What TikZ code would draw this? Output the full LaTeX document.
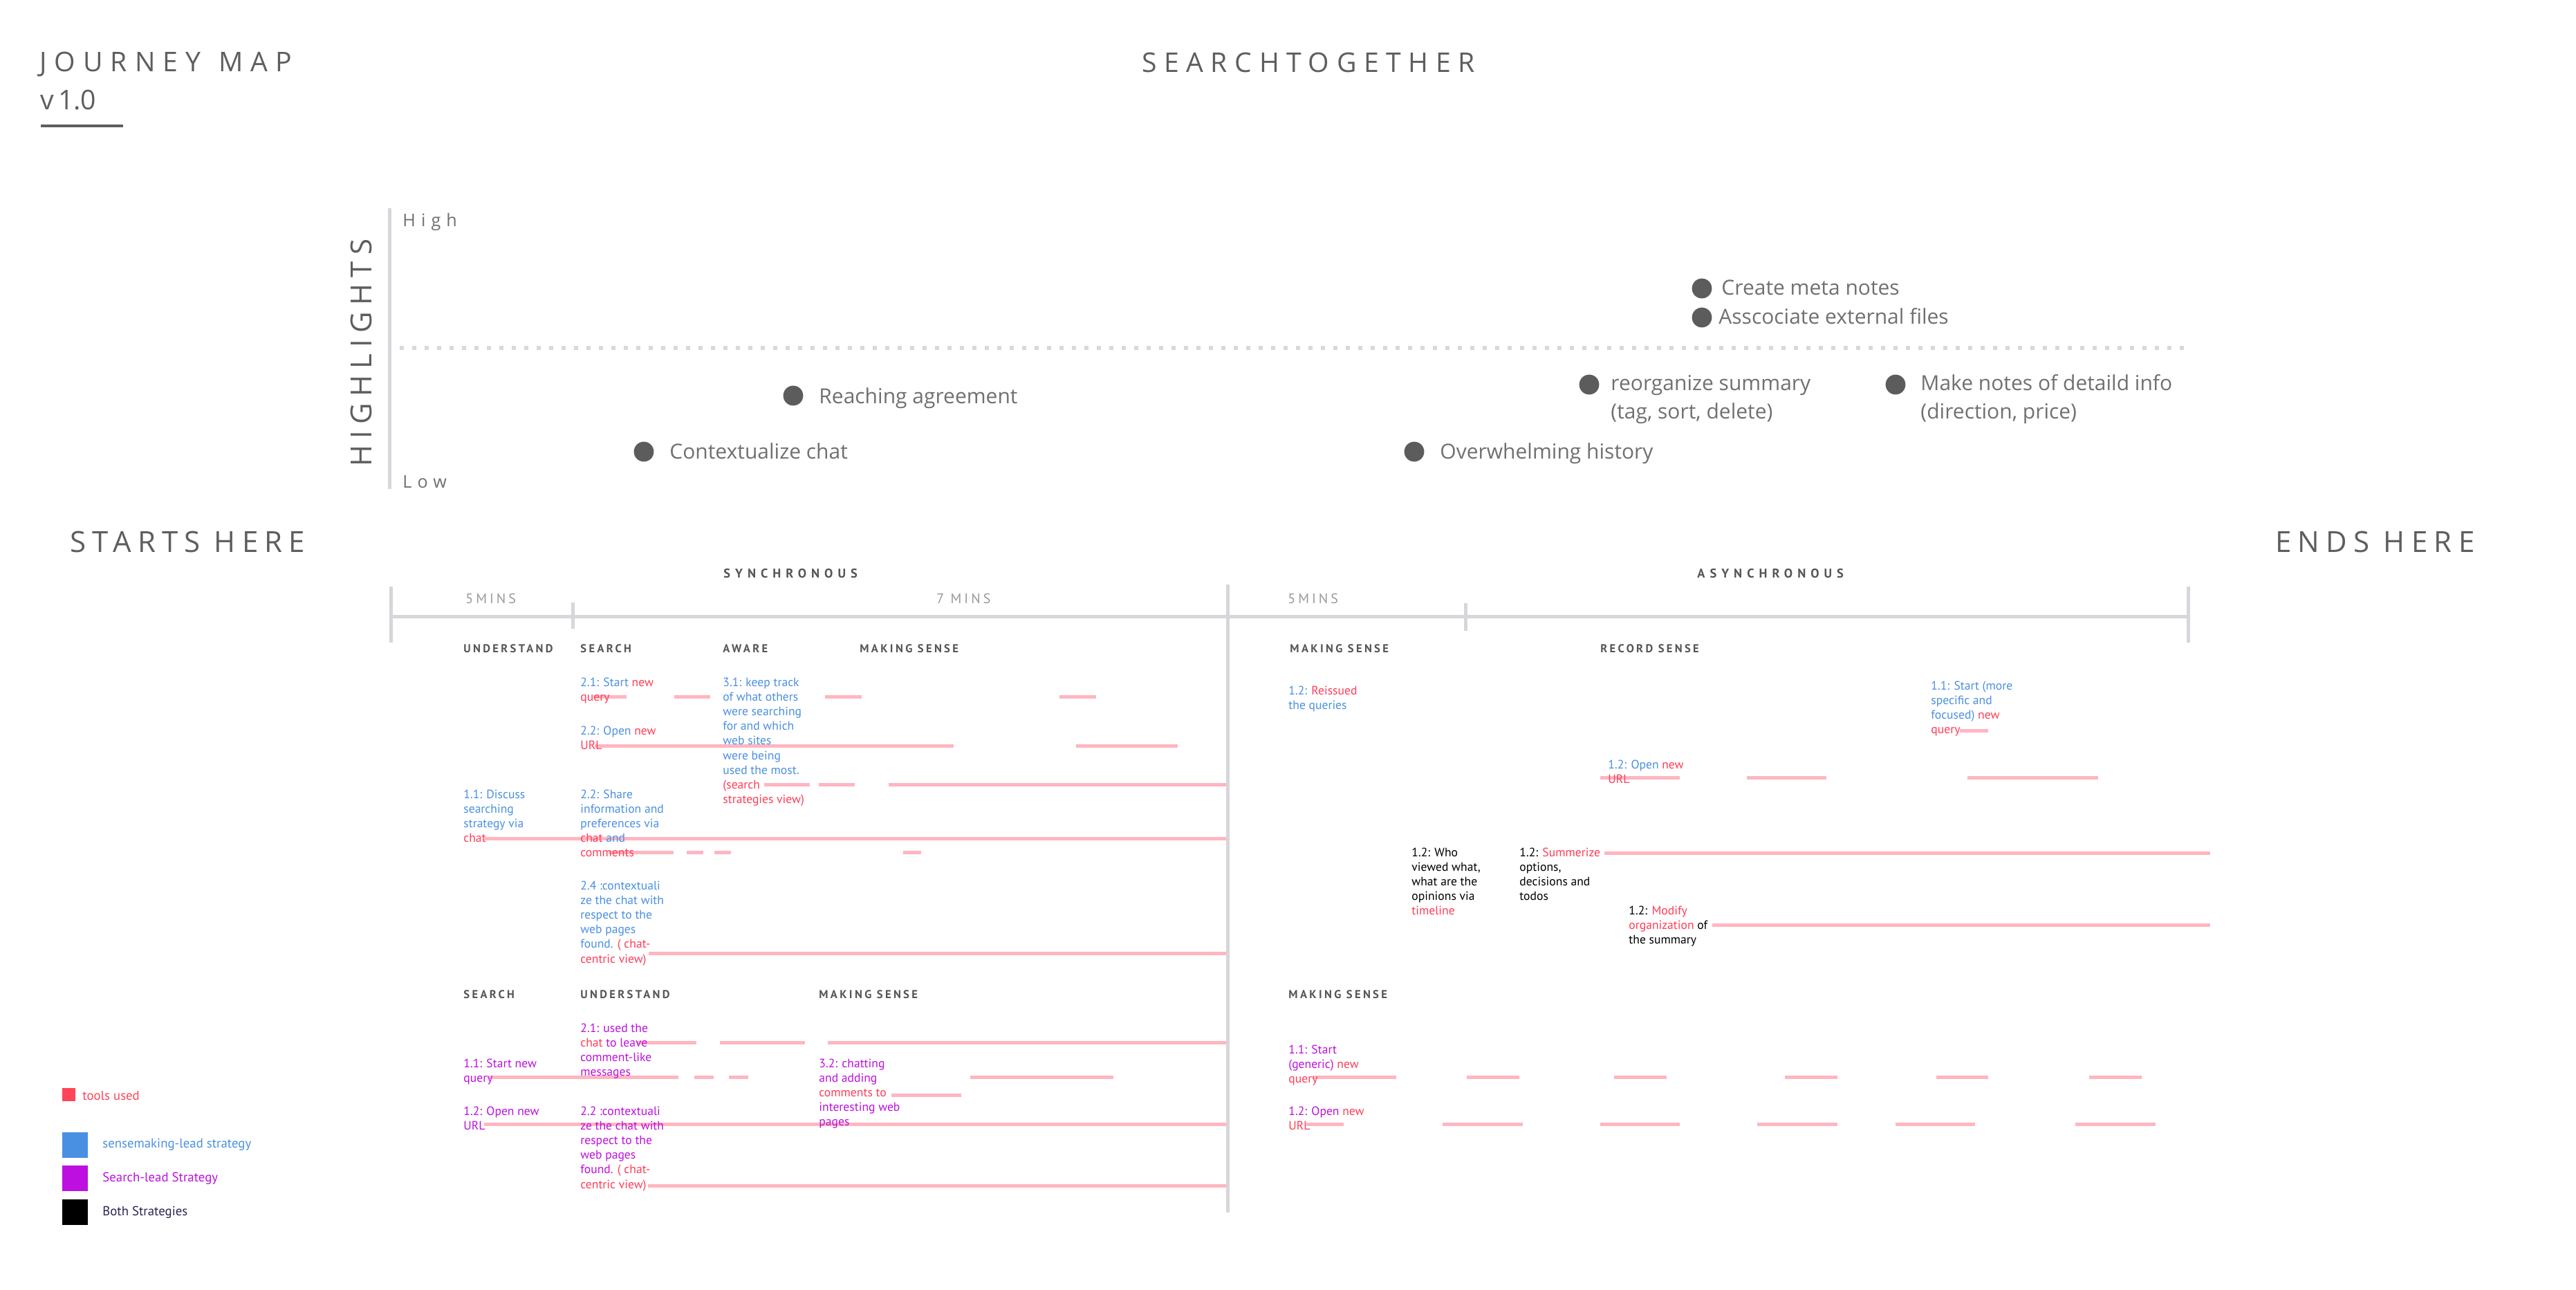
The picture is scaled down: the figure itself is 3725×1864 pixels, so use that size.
\documentclass[tikz,border=0pt]{standalone}
\usepackage{fontspec}
\setmainfont{PT Sans}
\newfontfamily\osN{Open Sans}
\newfontfamily\osA{Open Sans}[LetterSpace=22]
\newfontfamily\osJ{Open Sans}[LetterSpace=28]
\newfontfamily\osC{Open Sans}[LetterSpace=27]
\newfontfamily\osB{Open Sans}[LetterSpace=32]
\newfontfamily\ptA{PT Sans}[LetterSpace=20]
\newfontfamily\ptH{PT Sans}[LetterSpace=20]
\newfontfamily\ptB{PT Sans}[LetterSpace=38]
\definecolor{cBlue}{HTML}{4A90E2}
\definecolor{cPurp}{HTML}{BD10E0}
\definecolor{cRed}{HTML}{FF3D57}
\definecolor{cPink}{HTML}{FFB6C1}
\definecolor{cAxis}{HTML}{D6D6DB}
\definecolor{cDotL}{HTML}{D8D8DD}
\definecolor{cDot}{HTML}{5C5C5C}
\definecolor{cHead}{HTML}{5E5E5E}
\definecolor{cHl}{HTML}{707070}
\definecolor{cPh}{HTML}{555555}
\definecolor{cMin}{HTML}{9A9A9A}
\definecolor{cNavy}{HTML}{2A2352}
\definecolor{cLegRed}{HTML}{FF4458}
\newcommand{\tred}[1]{\textcolor{cRed}{#1}}
\newcommand{\mlines}[1]{\begin{tabular}[t]{@{}l@{}}#1\end{tabular}}
\begin{document}
\begin{tikzpicture}[x=0.5pt,y=-0.5pt,
  tx/.style={anchor=base west, inner sep=0pt, font=\fontsize{8.8}{10.6}\selectfont},
  hl/.style={anchor=base west, inner sep=0pt, font=\osN\fontsize{15}{18}\selectfont, text=cHl},
  bigtitle/.style={inner sep=0pt, font=\fontsize{19.6}{22}\selectfont, text=cHead},
  phase/.style={anchor=base west, inner sep=0pt, font=\ptH\bfseries\fontsize{8.3}{10}\selectfont, text=cPh},
  mins/.style={anchor=base west, inner sep=0pt, font=\ptA\fontsize{10}{12}\selectfont, text=cMin},
  sync/.style={anchor=base west, inner sep=0pt, font=\ptB\bfseries\fontsize{9.2}{11}\selectfont, text=cPh},
  bullet/.style={circle, fill=cDot, inner sep=0pt, minimum size=14.4pt},
  pk/.style={cPink, line width=2.5pt},
  ax/.style={cAxis, line width=2.5pt},
  legtx/.style={anchor=base west, inner sep=0pt, font=\fontsize{9.4}{11}\selectfont}]
\useasboundingbox (0,0) rectangle (3725,1864);
\fill[white] (0,0) rectangle (3725,1864);

% ---------- titles ----------
\node[bigtitle, anchor=base west] (jm) at (57,103) {\osJ JOURNEY\hspace{13pt}MAP};
\node[bigtitle, anchor=base west] (ver) at (58,158) {\osN v\hspace{3pt}1.0};
\draw[cHead, line width=1.6pt] (59,182) -- (178,182);
\node[bigtitle, anchor=base] (st) at (1892,104) {\osC SEARCHTOGETHER};

% ---------- highlights ----------
\draw[ax] (563,301) -- (563,707);
\draw[cDotL, line width=3pt, dash pattern=on 3pt off 6pt] (578,503) -- (3160,503);
\node[anchor=base west, inner sep=0pt, font=\osB\fontsize{12.6}{14}\selectfont, text=cHl] (hi) at (582,327) {High};
\node[anchor=base west, inner sep=0pt, font=\osB\fontsize{12.6}{14}\selectfont, text=cHl] (lo) at (582,705) {Low};
\node[inner sep=0pt, font=\osA\fontsize{21}{24}\selectfont, text=cHead, rotate=90, anchor=base] (hlt) at (537,510) {HIGHLIGHTS};

\node[bullet] (d1) at (1147,572) {};
\node[hl] (t1) at (1184,583) {Reaching agreement};
\node[bullet] (d2) at (931,653) {};
\node[hl] (t2) at (968,663) {Contextualize chat};
\node[bullet] (d3) at (2461,417) {};
\node[hl] (t3) at (2489,426) {Create meta notes};
\node[bullet] (d4) at (2461,459) {};
\node[hl] (t4) at (2485,468) {Asscociate external files};
\node[bullet] (d5) at (2298,556) {};
\node[hl] (t5) at (2329,564) {reorganize summary};
\node[hl] (t5b) at (2329,605) {(tag, sort, delete)};
\node[bullet] (d6) at (2741,556) {};
\node[hl] (t6) at (2777,564) {Make notes of detaild info};
\node[hl] (t6b) at (2777,605) {(direction, price)};
\node[bullet] (d7) at (2045,653) {};
\node[hl] (t7) at (2082,663) {Overwhelming history};

% ---------- starts / ends ----------
\node[anchor=base west, inner sep=0pt, font=\osA\fontsize{21}{24}\selectfont, text=cHead] (sh) at (101,798) {STARTS HERE};
\node[anchor=base west, inner sep=0pt, font=\osA\fontsize{21}{24}\selectfont, text=cHead] (eh) at (3290,798) {ENDS HERE};

% ---------- timeline axes ----------
\draw[ax] (565,891) -- (3164,891);
\draw[ax] (565,848) -- (565,929);
\draw[ax] (828,871) -- (828,909);
\draw[ax] (1775,845) -- (1775,1753);
\draw[ax] (2119,872) -- (2119,912);
\draw[ax] (3164,848) -- (3164,929);

\node[sync] (syn) at (1046,835) {SYNCHRONOUS};
\node[sync] (asyn) at (2454,835) {ASYNCHRONOUS};
\node[mins] (m5a) at (673,872) {5MINS};
\node[mins] (m7) at (1354,872) {7 MINS};
\node[mins] (m5b) at (1862,872) {5MINS};

\node[phase] (p1) at (670,943) {UNDERSTAND};
\node[phase] (p2) at (839,943) {SEARCH};
\node[phase] (p3) at (1045,943) {AWARE};
\node[phase] (p4) at (1243,943) {MAKING SENSE};
\node[phase] (p5) at (1865,943) {MAKING SENSE};
\node[phase] (p6) at (2314,943) {RECORD SENSE};
\node[phase] (q1) at (670,1443) {SEARCH};
\node[phase] (q2) at (839,1443) {UNDERSTAND};
\node[phase] (q3) at (1184,1443) {MAKING SENSE};
\node[phase] (q4) at (1863,1443) {MAKING SENSE};

% ---------- pink tool lines ----------
\foreach \a/\b/\y in {858/906/1007, 975/1027/1007, 1193/1246/1007, 1532/1585/1007,
  860/1379/1078, 1556/1703/1078,
  1105/1171/1134, 1184/1236/1134, 1285/1773/1134,
  700/1773/1212,
  880/974/1232, 993/1017/1232, 1033/1057/1232, 1306/1332/1232,
  938/1773/1378,
  2314/2429/1124, 2526/2641/1124, 2845/3034/1124,
  2320/3196/1233, 2476/3196/1337, 2834/2875/1056,
  921/1007/1507, 1041/1164/1507, 1197/1773/1507,
  707/981/1557, 1004/1032/1557, 1054/1082/1557, 1403/1610/1557,
  1289/1390/1583, 700/1773/1625, 937/1773/1714,
  1898/2019/1557, 2121/2197/1557, 2334/2410/1557, 2581/2657/1557, 2800/2875/1557, 3021/3097/1557,
  1889/1943/1625, 2086/2202/1625, 2314/2429/1625, 2541/2657/1625, 2741/2856/1625, 3001/3117/1625}
  {\draw[pk] (\a,\y) -- (\b,\y);}

% ---------- row 1 texts ----------
\node[tx, text=cBlue] (s21) at (839,992) {\mlines{2.1: Start \tred{new}\\\tred{query}}};
\node[tx, text=cBlue] (s22) at (839,1062) {\mlines{2.2: Open \tred{new}\\\tred{URL}}};
\node[tx, text=cBlue] (a31) at (1045,992) {\mlines{3.1: keep track\\of what others\\were searching\\for and which\\web sites\\were being\\used the most.\\\tred{(search}\\\tred{strategies view)}}};
\node[tx, text=cBlue] (u11) at (670,1154) {\mlines{1.1: Discuss\\searching\\strategy via\\\tred{chat}}};
\node[tx, text=cBlue] (s22b) at (839,1154) {\mlines{2.2: Share\\information and\\preferences via\\\tred{chat} and\\\tred{comments}}};
\node[tx, text=cBlue] (s24) at (839,1286) {\mlines{2.4 :contextuali\\ze the chat with\\respect to the\\web pages\\found. \tred{( chat-}\\\tred{centric view)}}};

\node[tx, text=cBlue] (m12) at (1863,1004) {\mlines{1.2: \tred{Reissued}\\the queries}};
\node[tx, text=cBlue] (r12) at (2325,1111) {\mlines{1.2: Open \tred{new}\\\tred{URL}}};
\node[tx, text=black] (w12) at (2041,1238) {\mlines{1.2: Who\\viewed what,\\what are the\\opinions via\\\tred{timeline}}};
\node[tx, text=black] (sm12) at (2197,1238) {\mlines{1.2: \tred{Summerize}\\options,\\decisions and\\todos}};
\node[tx, text=black] (md12) at (2355,1322) {\mlines{1.2: \tred{Modify}\\\tred{organization} of\\the summary}};
\node[tx, text=cBlue] (r11) at (2792,997) {\mlines{1.1: Start (more\\specific and\\focused) \tred{new}\\\tred{query}}};

% ---------- row 2 texts ----------
\node[tx, text=cPurp] (b21) at (839,1492) {\mlines{2.1: used the\\\tred{chat} to leave\\comment-like\\messages}};
\node[tx, text=cPurp] (b11) at (670,1543) {\mlines{1.1: Start new\\query}};
\node[tx, text=cPurp] (b32) at (1184,1543) {\mlines{3.2: chatting\\and adding\\\tred{comments to}\\interesting web\\pages}};
\node[tx, text=cPurp] (b12) at (670,1612) {\mlines{1.2: Open new\\URL}};
\node[tx, text=cPurp] (b22) at (839,1612) {\mlines{2.2 :contextuali\\ze the chat with\\respect to the\\web pages\\found. \tred{( chat-}\\\tred{centric view)}}};
\node[tx, text=cPurp] (c11) at (1863,1523) {\mlines{1.1: Start\\(generic) \tred{new}\\\tred{query}}};
\node[tx, text=cPurp] (c12) at (1863,1612) {\mlines{1.2: Open \tred{new}\\\tred{URL}}};

% ---------- legend ----------
\fill[cLegRed] (90,1573) rectangle (109,1592);
\node[legtx, text=cLegRed] (lg1) at (119,1590) {tools used};
\fill[cBlue] (90,1637) rectangle (127,1674);
\node[legtx, text=cBlue] (lg2) at (148,1659) {sensemaking-lead strategy};
\fill[cPurp] (90,1685) rectangle (127,1722);
\node[legtx, text=cPurp] (lg3) at (148,1708) {Search-lead Strategy};
\fill[black] (90,1734) rectangle (127,1771);
\node[legtx, text=cNavy] (lg4) at (148,1757) {Both Strategies};
\end{tikzpicture}
\end{document}
